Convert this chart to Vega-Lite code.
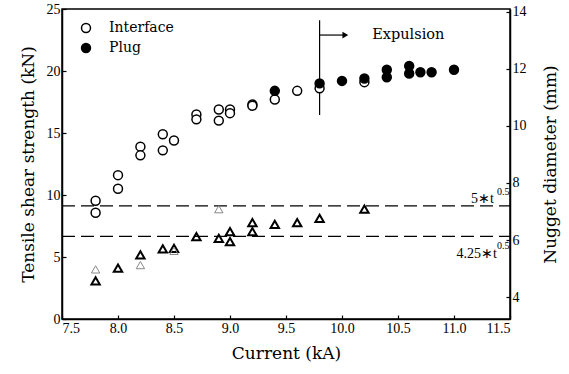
{
  "$schema": "https://vega.github.io/schema/vega-lite/v6.json",
  "width": 448,
  "height": 310,
  "autosize": "none",
  "padding": {"left": 62, "top": 9, "right": 59, "bottom": 55},
  "background": "white",
  "config": {
    "view": {"stroke": "black", "strokeWidth": 1.5},
    "axis": {
      "domainColor": "black", "domainWidth": 1.5, "tickColor": "black", "tickWidth": 1.2,
      "tickSize": -4, "grid": false, "labelFont": "Liberation Serif", "labelFontSize": 14,
      "labelColor": "black", "titleFont": "DejaVu Serif", "titleFontSize": 17,
      "titleFontWeight": "normal", "titleColor": "black"
    }
  },
  "datasets": {
    "strength": [
      {"current": 7.8, "kN": 9.54, "type": "Interface"},
      {"current": 7.8, "kN": 8.57, "type": "Interface"},
      {"current": 8.0, "kN": 11.6, "type": "Interface"},
      {"current": 8.0, "kN": 10.5, "type": "Interface"},
      {"current": 8.2, "kN": 13.9, "type": "Interface"},
      {"current": 8.2, "kN": 13.2, "type": "Interface"},
      {"current": 8.4, "kN": 14.9, "type": "Interface"},
      {"current": 8.4, "kN": 13.6, "type": "Interface"},
      {"current": 8.5, "kN": 14.4, "type": "Interface"},
      {"current": 8.7, "kN": 16.5, "type": "Interface"},
      {"current": 8.7, "kN": 16.1, "type": "Interface"},
      {"current": 8.9, "kN": 16.9, "type": "Interface"},
      {"current": 8.9, "kN": 16.0, "type": "Interface"},
      {"current": 9.0, "kN": 16.9, "type": "Interface"},
      {"current": 9.0, "kN": 16.6, "type": "Interface"},
      {"current": 9.2, "kN": 17.3, "type": "Interface"},
      {"current": 9.2, "kN": 17.2, "type": "Interface"},
      {"current": 9.4, "kN": 17.7, "type": "Interface"},
      {"current": 9.6, "kN": 18.4, "type": "Interface"},
      {"current": 9.8, "kN": 18.6, "type": "Interface"},
      {"current": 10.2, "kN": 19.1, "type": "Interface"},
      {"current": 9.4, "kN": 18.4, "type": "Plug"},
      {"current": 9.8, "kN": 19.0, "type": "Plug"},
      {"current": 10.0, "kN": 19.2, "type": "Plug"},
      {"current": 10.2, "kN": 19.4, "type": "Plug"},
      {"current": 10.4, "kN": 20.1, "type": "Plug"},
      {"current": 10.4, "kN": 19.5, "type": "Plug"},
      {"current": 10.6, "kN": 20.4, "type": "Plug"},
      {"current": 10.6, "kN": 19.8, "type": "Plug"},
      {"current": 10.7, "kN": 19.9, "type": "Plug"},
      {"current": 10.8, "kN": 19.9, "type": "Plug"},
      {"current": 11.0, "kN": 20.1, "type": "Plug"}
    ],
    "diameter": [
      {"current": 7.8, "mm": 4.57, "group": "main"},
      {"current": 8.0, "mm": 5.01, "group": "main"},
      {"current": 8.2, "mm": 5.48, "group": "main"},
      {"current": 8.4, "mm": 5.69, "group": "main"},
      {"current": 8.5, "mm": 5.71, "group": "main"},
      {"current": 8.7, "mm": 6.12, "group": "main"},
      {"current": 8.9, "mm": 6.06, "group": "main"},
      {"current": 9.0, "mm": 6.29, "group": "main"},
      {"current": 9.0, "mm": 5.94, "group": "main"},
      {"current": 9.2, "mm": 6.61, "group": "main"},
      {"current": 9.2, "mm": 6.29, "group": "main"},
      {"current": 9.4, "mm": 6.55, "group": "main"},
      {"current": 9.6, "mm": 6.61, "group": "main"},
      {"current": 9.8, "mm": 6.76, "group": "main"},
      {"current": 10.2, "mm": 7.08, "group": "main"},
      {"current": 7.8, "mm": 4.97, "group": "faint"},
      {"current": 8.2, "mm": 5.12, "group": "faint"},
      {"current": 8.5, "mm": 5.62, "group": "faint"},
      {"current": 8.9, "mm": 7.08, "group": "faint"}
    ],
    "criteria": [
      {"current": 7.5, "current2": 11.5, "mm": 7.2},
      {"current": 7.5, "current2": 11.5, "mm": 6.13}
    ],
    "criteriaLabels": [
      {"current": 11.357, "mm": 7.3, "text": "5∗t"},
      {"current": 11.384, "mm": 5.37, "text": "4.25∗t"}
    ],
    "criteriaSup": [
      {"current": 11.385, "mm": 7.69, "text": "0.5"},
      {"current": 11.385, "mm": 5.79, "text": "0.5"}
    ],
    "expulsionLine": [
      {"current": 9.8, "kN": 24.1, "kN2": 16.45}
    ],
    "arrow": [
      {"current": 9.8, "current2": 10.02, "kN": 22.9}
    ],
    "arrowHead": [
      {"current": 10.03, "kN": 22.9}
    ],
    "expulsionText": [
      {"current": 10.27, "kN": 22.9, "text": "Expulsion"}
    ]
  },
  "encoding": {
    "x": {
      "field": "current", "type": "quantitative",
      "scale": {"domain": [7.5, 11.5], "nice": false, "zero": false},
      "axis": {"values": [7.5, 8, 8.5, 9, 9.5, 10, 10.5, 11, 11.5], "format": ".1f", "title": "Current (kA)", "labelPadding": 6, "titlePadding": 10}
    }
  },
  "layer": [
    {
      "encoding": {
        "y": {
          "field": "kN", "type": "quantitative",
          "scale": {"domain": [0, 25], "nice": false, "zero": false},
          "axis": {"values": [0, 5, 10, 15, 20, 25], "title": "Tensile shear strength (kN)", "labelPadding": 6, "titlePadding": 9}
        }
      },
      "layer": [
        {
          "data": {"name": "expulsionLine"},
          "mark": {"type": "rule", "color": "black", "strokeWidth": 1.2},
          "encoding": {"y2": {"field": "kN2"}}
        },
        {
          "data": {"name": "arrow"},
          "mark": {"type": "rule", "color": "black", "strokeWidth": 1.2},
          "encoding": {"x2": {"field": "current2"}}
        },
        {
          "data": {"name": "arrowHead"},
          "mark": {"type": "point", "shape": "triangle-right", "filled": true, "color": "black", "size": 45, "opacity": 1},
          "encoding": {}
        },
        {
          "data": {"name": "expulsionText"},
          "mark": {"type": "text", "align": "left", "baseline": "middle", "font": "DejaVu Serif", "fontSize": 14.5, "color": "black"},
          "encoding": {"text": {"field": "text"}}
        },
        {
          "data": {"name": "strength"},
          "mark": {"type": "point", "shape": "circle", "filled": true, "stroke": "black", "strokeWidth": 1.5, "size": 80, "opacity": 1},
          "encoding": {
            "fill": {
              "field": "type", "type": "nominal",
              "scale": {"domain": ["Interface", "Plug"], "range": ["white", "black"]},
              "legend": {
                "orient": "none", "legendX": 17, "legendY": 12, "title": null,
                "symbolType": "circle", "symbolSize": 80, "symbolStrokeColor": "black", "symbolStrokeWidth": 1.5,
                "labelFont": "DejaVu Serif", "labelFontSize": 14, "labelColor": "black", "labelOffset": 16, "rowPadding": 4
              }
            }
          }
        }
      ]
    },
    {
      "encoding": {
        "y": {
          "field": "mm", "type": "quantitative",
          "scale": {"domain": [3.23, 14.1], "nice": false, "zero": false},
          "axis": {"orient": "right", "values": [4, 6, 8, 10, 12, 14], "title": "Nugget diameter (mm)", "titleAngle": 270, "labelPadding": 6, "titlePadding": 33}
        }
      },
      "layer": [
        {
          "data": {"name": "criteria"},
          "mark": {"type": "rule", "color": "black", "strokeWidth": 1.3, "strokeDash": [13, 6]},
          "encoding": {"x2": {"field": "current2"}}
        },
        {
          "data": {"name": "criteriaLabels"},
          "mark": {"type": "text", "align": "right", "baseline": "alphabetic", "font": "Liberation Serif", "fontSize": 14, "color": "black"},
          "encoding": {"text": {"field": "text"}}
        },
        {
          "data": {"name": "criteriaSup"},
          "mark": {"type": "text", "align": "left", "baseline": "middle", "font": "Liberation Serif", "fontSize": 10, "color": "black"},
          "encoding": {"text": {"field": "text"}}
        },
        {
          "data": {"name": "diameter"},
          "mark": {"type": "point", "shape": "triangle-up", "filled": false, "size": 70, "opacity": 1},
          "encoding": {
            "stroke": {"field": "group", "type": "nominal", "scale": {"domain": ["main", "faint"], "range": ["black", "#888888"]}, "legend": null},
            "strokeWidth": {"field": "group", "type": "nominal", "scale": {"domain": ["main", "faint"], "range": [2, 1]}, "legend": null}
          }
        }
      ]
    }
  ],
  "resolve": {"scale": {"y": "independent"}}
}
